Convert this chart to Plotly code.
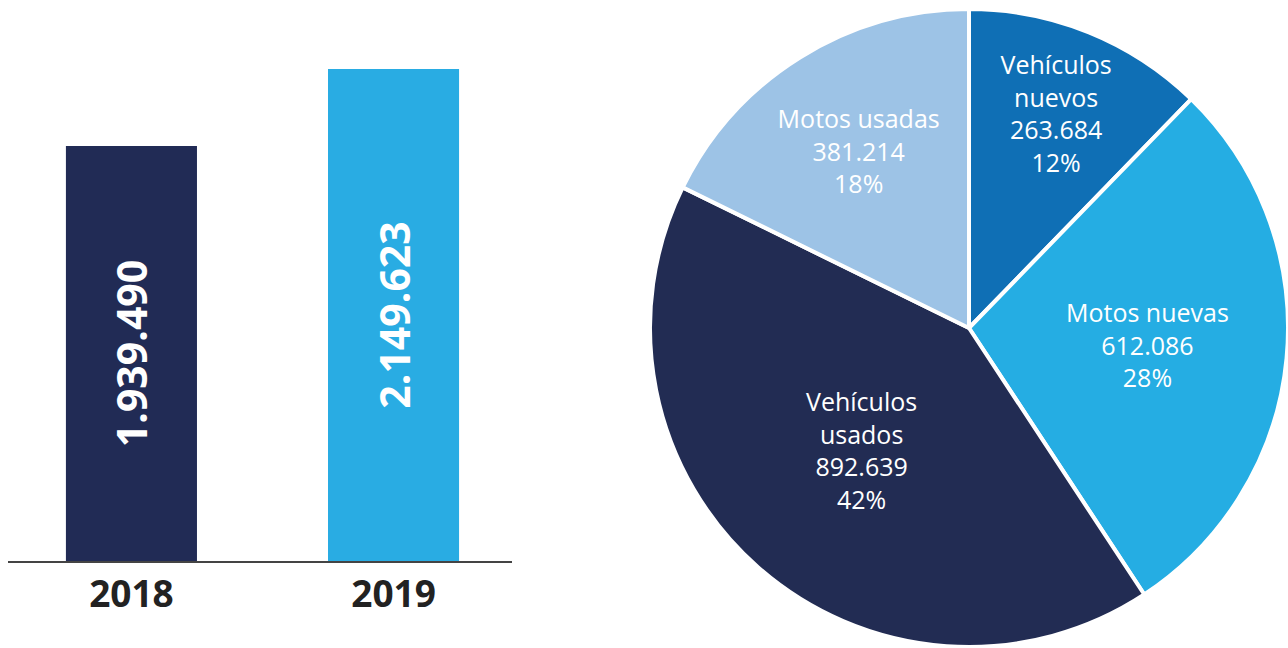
import plotly.graph_objects as go

# ---- data ----
years = ["2018", "2019"]
totals = [1939490, 2149623]
total_labels = ["1.939.490", "2.149.623"]
bar_colors = ["#212B55", "#29ACE3"]

segments = ["Vehículos<br>nuevos", "Motos nuevas", "Vehículos<br>usados", "Motos usadas"]
segment_values = [263684, 612086, 892639, 381214]
segment_colors = ["#0F6FB5", "#25ADE3", "#222C53", "#9DC3E6"]

W, H = 1288, 648
AXIS_MIN = 806955
AXIS_MAX = 2337924

fig = go.Figure()

fig.add_trace(go.Bar(
    x=list(range(len(years))),
    y=[v - AXIS_MIN for v in totals],
    base=AXIS_MIN,
    width=0.5,
    marker=dict(color=bar_colors, line=dict(width=0)),
    text=total_labels,
    textposition="inside",
    insidetextanchor="middle",
    textangle=-90,
    textfont=dict(family="Open Sans", size=41, color="white", weight="bold"),
    hoverinfo="skip",
    showlegend=False,
))

fig.add_trace(go.Pie(
    labels=segments,
    values=segment_values,
    sort=False,
    direction="clockwise",
    rotation=0,
    marker=dict(colors=segment_colors, line=dict(color="white", width=4)),
    texttemplate="%{label}<br>%{value:,}<br>%{percent:.0%}",
    textposition="inside",
    insidetextorientation="horizontal",
    textfont=dict(family="Open Sans", size=25, color="white"),
    domain=dict(x=[650 / W, 1], y=[0, 1 - 8 / H]),
    showlegend=False,
    hoverinfo="skip",
))

fig.update_layout(
    width=W, height=H,
    margin=dict(l=0, r=0, t=0, b=0),
    paper_bgcolor="white",
    plot_bgcolor="white",
    separators=",.",
    xaxis=dict(
        domain=[8 / W, 512 / W],
        range=[-0.471, 1.452],
        tickvals=list(range(len(years))),
        ticktext=years,
        tickfont=dict(family="Open Sans", size=37, color="#222222", weight="bold"),
        showline=True, linecolor="#444444", linewidth=2,
        showgrid=False, zeroline=False, ticks="",
        fixedrange=True,
    ),
    yaxis=dict(
        domain=[(H - 561) / H, 1],
        range=[AXIS_MIN, AXIS_MAX],
        visible=False,
        showgrid=False, zeroline=False,
        fixedrange=True,
    ),
)

fig.write_html(
    "out.html",
    config={"displayModeBar": False},
    post_script="document.body.style.margin='0';document.body.style.overflow='hidden';",
)
